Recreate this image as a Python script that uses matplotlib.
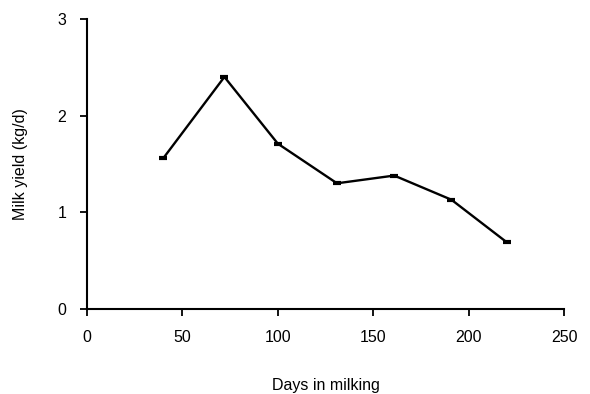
import matplotlib
matplotlib.use("Agg")
import matplotlib.pyplot as plt

plt.rcParams['font.family'] = ['Liberation Sans', 'DejaVu Sans']

days = [40, 72, 100, 131, 161, 191, 220]
milk_yield = [1.56, 2.40, 1.71, 1.30, 1.38, 1.13, 0.69]
xticks = [0, 50, 100, 150, 200, 250]
yticks = [0, 1, 2, 3]

fig = plt.figure(figsize=(5.9, 3.94), dpi=100)
ax = fig.add_axes([0.1475, 0.2157, 0.8085, 0.7363])
ax.plot(days, milk_yield, color='black', linewidth=1.7,
        marker='_', markersize=6, markeredgewidth=3)
ax.set_xlim(0, 250)
ax.set_ylim(0, 3)
ax.set_xticks(xticks)
ax.set_yticks(yticks)
ax.spines['top'].set_visible(False)
ax.spines['right'].set_visible(False)
ax.spines['left'].set_linewidth(1.5)
ax.spines['bottom'].set_linewidth(1.5)
ax.tick_params(direction='out', length=5, width=1.3, labelsize=11.5, pad=10)
ax.set_xlabel('Days in milking', fontsize=11.5, labelpad=24)
ax.set_ylabel('Milk yield (kg/d)', fontsize=11.5, labelpad=21)
fig.savefig('out.png', dpi=100)
